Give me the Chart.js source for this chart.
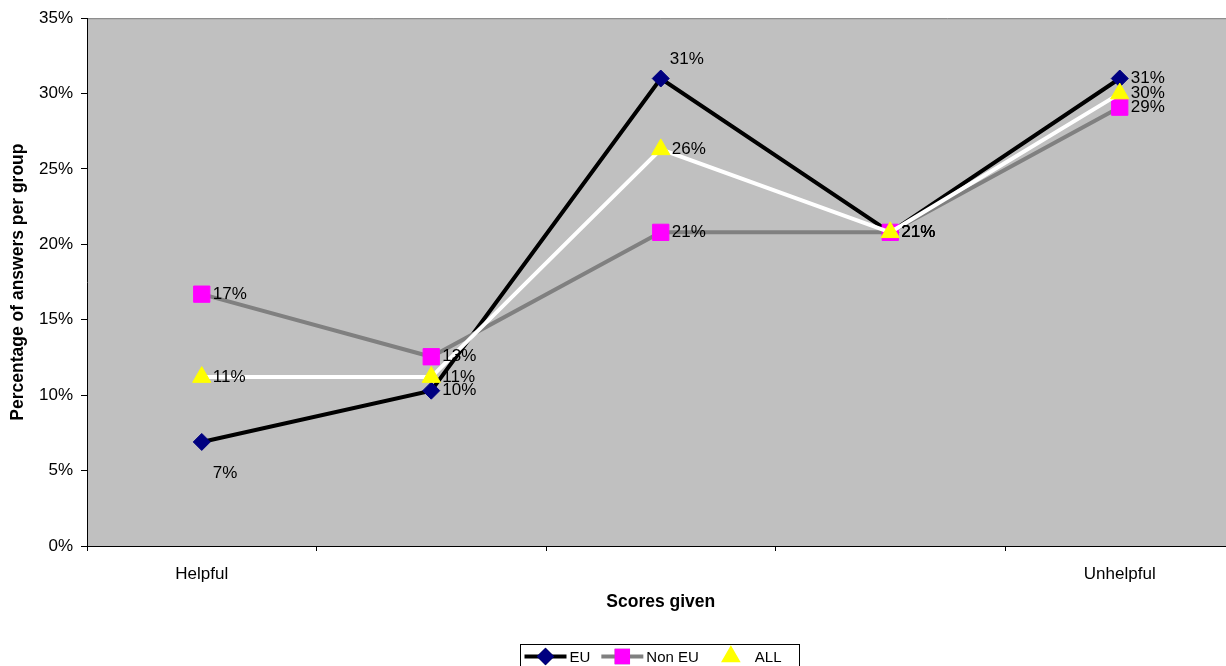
<!DOCTYPE html>
<html>
<head>
<meta charset="utf-8">
<script src="https://cdn.jsdelivr.net/npm/chart.js@4/dist/chart.umd.min.js"></script>
<style>
  html, body { margin: 0; padding: 0; background: #fff; overflow: hidden; }
  canvas { display: block; }
</style>
</head>
<body>
<canvas id="chart" width="1247" height="666"></canvas>
<script>
// data
const categories = ["Helpful", "", "", "", "Unhelpful"];
const euValues = [6.9, 10.3, 31.0, 20.8, 31.0];
const nonEuValues = [16.7, 12.55, 20.8, 20.8, 29.1];
const allValues = [11.2, 11.2, 26.3, 20.8, 30.0];
const yTicks = [0, 5, 10, 15, 20, 25, 30, 35];

const FONT = "'Liberation Sans', Arial, sans-serif";

// grey plot background + top border
const plotBg = {
  id: 'plotBg',
  beforeDraw(chart) {
    const { ctx, chartArea: a } = chart;
    ctx.save();
    ctx.fillStyle = '#c0c0c0';
    ctx.fillRect(a.left, a.top, a.right - a.left, a.bottom - a.top);
    ctx.strokeStyle = '#808080';
    ctx.lineWidth = 1;
    ctx.beginPath();
    ctx.moveTo(a.left, a.top + 0.5);
    ctx.lineTo(a.right, a.top + 0.5);
    ctx.stroke();
    ctx.restore();
  }
};

// value labels next to points
const valueLabels = {
  id: 'valueLabels',
  afterDatasetsDraw(chart) {
    const ctx = chart.ctx;
    ctx.save();
    ctx.font = '17px ' + FONT;
    ctx.fillStyle = '#000';
    ctx.textAlign = 'left';
    ctx.textBaseline = 'middle';
    chart.data.datasets.forEach((ds, di) => {
      const meta = chart.getDatasetMeta(di);
      meta.data.forEach((pt, i) => {
        const txt = Math.round(ds.data[i]) + '%';
        let dx = 11, dy = 0;
        const place = ds.labelPlace ? ds.labelPlace[i] : 'right';
        if (place === 'below') { dx = 11; dy = 31; }
        if (place === 'above') { dx = 9; dy = -19; }
        ctx.fillText(txt, pt.x + dx, pt.y + dy);
      });
    });
    ctx.restore();
  }
};

// excel style legend in a box
const boxLegend = {
  id: 'boxLegend',
  afterDraw(chart) {
    const { ctx, chartArea: a } = chart;
    const cx = (a.left + a.right) / 2;
    const w = 279, h = 22;
    const left = Math.round(cx - w / 2) - 0.5;
    const top = 644.5;
    ctx.save();
    ctx.strokeStyle = '#000';
    ctx.lineWidth = 1;
    ctx.strokeRect(left, top, w, h);
    ctx.font = '15px ' + FONT;
    ctx.textBaseline = 'middle';
    ctx.textAlign = 'left';
    const midY = top + 12;
    let x = left + 4;
    chart.data.datasets.forEach((ds) => {
      ctx.strokeStyle = ds.borderColor;
      ctx.lineWidth = ds.borderWidth;
      ctx.beginPath();
      ctx.moveTo(x, midY);
      ctx.lineTo(x + 42, midY);
      ctx.stroke();
      Chart.helpers.drawPoint(ctx, {
        pointStyle: ds.pointStyle,
        radius: ds.pointRadius * 0.7,
        borderWidth: 1,
        rotation: 0
      }, x + 21, midY);
      ctx.fillStyle = ds.pointBackgroundColor;
      ctx.strokeStyle = ds.pointBorderColor;
      ctx.fill();
      ctx.stroke();
      x += 45;
      ctx.fillStyle = '#000';
      ctx.fillText(ds.label, x, midY + 1);
      x += ctx.measureText(ds.label).width + 11;
    });
    ctx.restore();
  }
};

new Chart(document.getElementById('chart'), {
  type: 'line',
  data: {
    labels: categories,
    datasets: [
      {
        label: 'EU',
        data: euValues,
        borderColor: '#000000',
        borderWidth: 4,
        pointStyle: 'rectRot',
        pointRadius: 8.5,
        pointBackgroundColor: '#000080',
        pointBorderColor: '#000080',
        pointBorderWidth: 1,
        labelPlace: ['below', 'right', 'above', 'right', 'right'],
        order: 2
      },
      {
        label: 'Non EU',
        data: nonEuValues,
        borderColor: '#808080',
        borderWidth: 4,
        pointStyle: 'rect',
        pointRadius: 11.5,
        pointBackgroundColor: '#ff00ff',
        pointBorderColor: '#ff00ff',
        pointBorderWidth: 1,
        order: 1
      },
      {
        label: 'ALL',
        data: allValues,
        borderColor: '#ffffff',
        borderWidth: 4,
        pointStyle: 'triangle',
        pointRadius: 10.5,
        pointBackgroundColor: '#ffff00',
        pointBorderColor: '#ffff00',
        pointBorderWidth: 1,
        order: 0
      }
    ]
  },
  options: {
    responsive: false,
    animation: false,
    devicePixelRatio: 1,
    layout: { padding: { top: 18, right: 6, bottom: 40, left: 0 } },
    elements: { line: { tension: 0 } },
    plugins: {
      legend: { display: false },
      tooltip: { enabled: false }
    },
    scales: {
      x: {
        offset: true,
        grid: { offset: true, drawOnChartArea: false, color: '#000', tickLength: 5 },
        border: { color: '#000', width: 1 },
        ticks: { color: '#000', font: { family: FONT, size: 17 }, padding: 13, autoSkip: false, maxRotation: 0 },
        title: { display: true, text: 'Scores given', color: '#000', font: { family: FONT, size: 17.5, weight: 'bold' }, padding: { top: 0, bottom: 13.5 } },
        afterFit(scale) { scale.height = 80; }
      },
      y: {
        min: 0,
        max: 35,
        afterBuildTicks(scale) { scale.ticks = yTicks.map(v => ({ value: v })); },
        grid: { drawOnChartArea: false, color: '#000', tickLength: 6 },
        border: { color: '#000', width: 1 },
        ticks: { color: '#000', font: { family: FONT, size: 17 }, padding: 8, callback: v => v + '%' },
        title: { display: true, text: 'Percentage of answers per group', color: '#000', font: { family: FONT, size: 17.5, weight: 'bold' }, padding: { top: 7.5, bottom: 0 } },
        afterFit(scale) { scale.width = 87; }
      }
    }
  },
  plugins: [plotBg, valueLabels, boxLegend]
});
</script>
</body>
</html>
